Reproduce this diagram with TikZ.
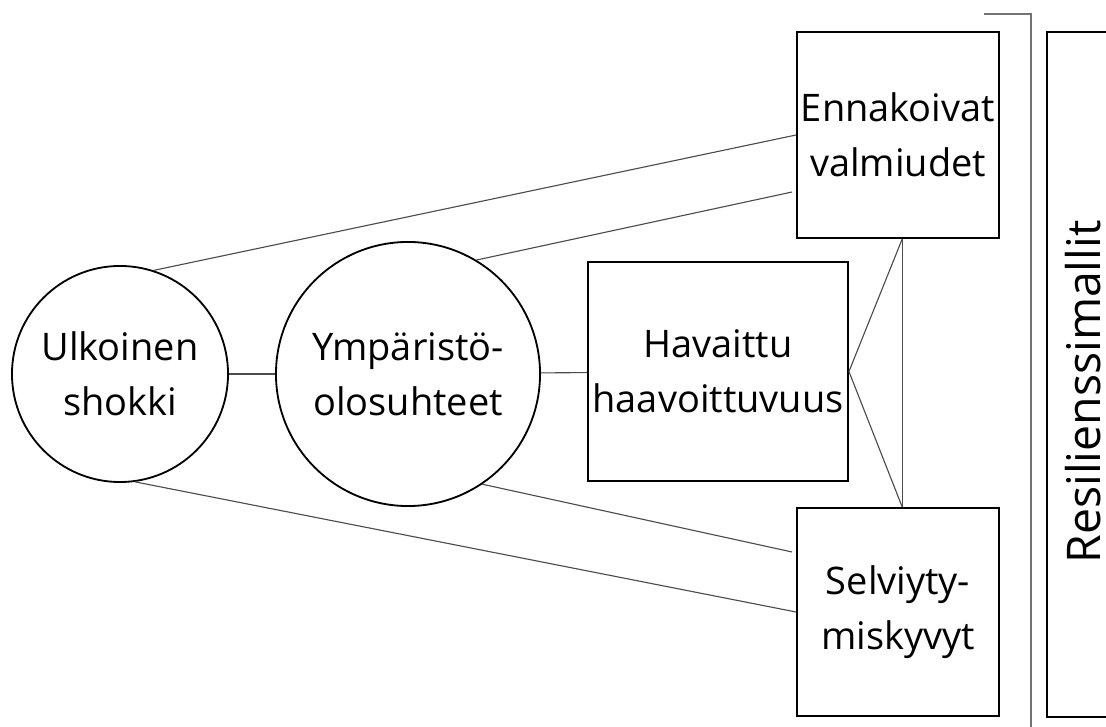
\documentclass[tikz,border=0pt]{standalone}
\usepackage{fontspec}
\setmainfont{Open Sans}
\usetikzlibrary{positioning}

\begin{document}
\begin{tikzpicture}[x=0.025cm,y=-0.025cm,
		every node/.style={font=\fontsize{27}{39}\selectfont,align=center,inner sep=0pt},
		ring/.style={circle,draw,line width=1.3pt},
		box/.style={rectangle,draw,line width=1.3pt},
		link/.style={draw=black!70,line width=0.8pt}]
			\clip (0,0) rectangle (1106,727);
			\node[ring,minimum size=5.4cm]                   (Shock)   at (120,374)   {Ulkoinen\\shokki};
			\node[ring,minimum size=6.6cm]                   (Environ) at (408,374)   {Ympäristö-\\olosuhteet};
			\node[box,minimum width=6.5cm,minimum height=5.475cm]  (Vulner)  at (718,371.5) {Havaittu\\haavoittuvuus};
			\node[box,minimum width=5.05cm,minimum height=5.15cm]  (Anticip) at (898,135)   {Ennakoivat\\valmiudet};
			\node[box,minimum width=5.05cm,minimum height=5.2cm]   (Coping)  at (898,612)   {Selviyty-\\miskyvyt};
			\node[box,minimum width=2.2cm,minimum height=17.125cm] (Models)  at (1091,374.5) {};
			\node[rotate=90,anchor=base,align=none,font=\fontsize{33}{39}\selectfont] (ModelsText) at (1100,392) {Resilienssimallit};

			\path[link] (Shock.72)    edge (Anticip.west)
						 (Environ.59)  edge ([shift={(-4,57)}]Anticip.west)
						 (Shock)       edge (Environ)
						 (Environ)     edge (Vulner)
						 (Environ.-56) edge ([shift={(-4,-60)}]Coping.west)
						 (Shock.-82)   edge (Coping.west)
						 (Vulner.east) edge ([xshift=3]Anticip.south)
						 (Vulner.east) edge ([xshift=3]Coping.north)
						 ([xshift=3]Anticip.south) edge ([xshift=3]Coping.north);
			\draw[link,draw=black!55] (984,14) -- (1031,14) -- (1031,727);
		\end{tikzpicture}
\end{document}
